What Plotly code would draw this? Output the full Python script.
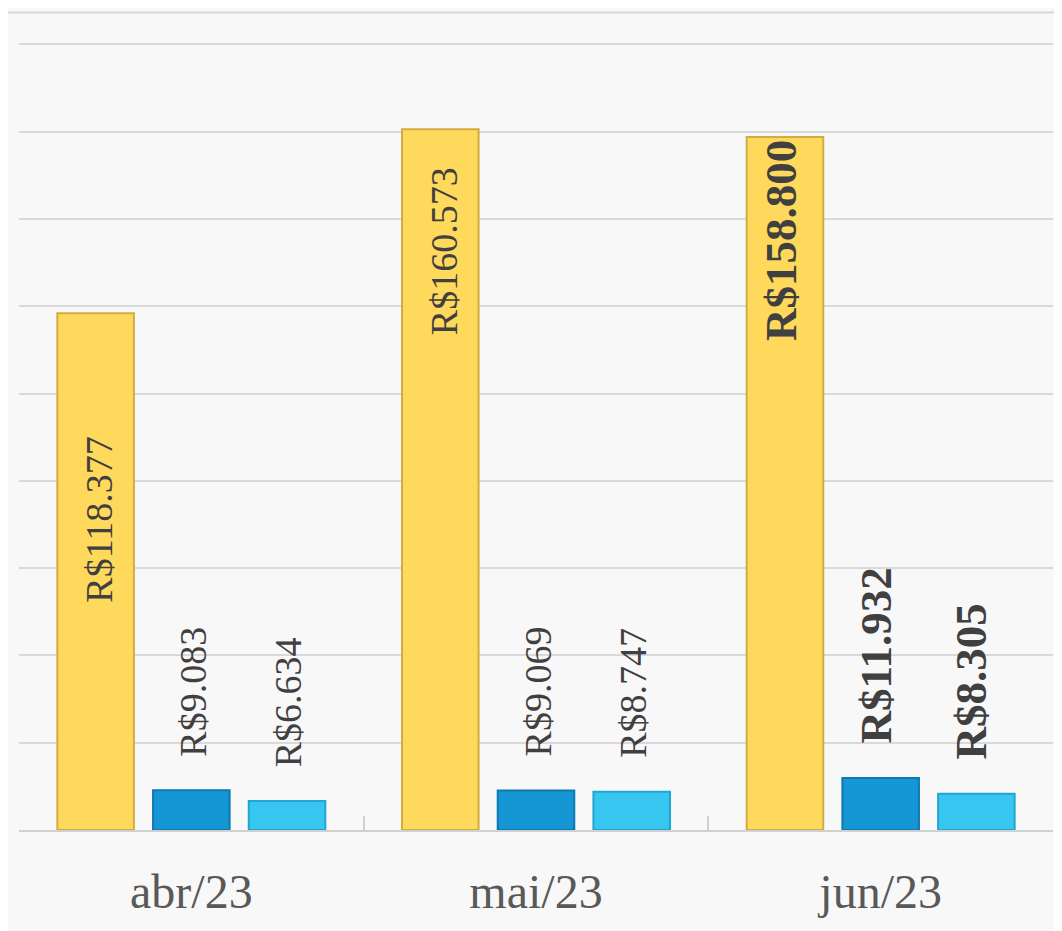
import plotly.graph_objects as go

categories = ["abr/23", "mai/23", "jun/23"]
serie_a = [118377, 160573, 158800]
serie_b = [9083, 9069, 11932]
serie_c = [6634, 8747, 8305]
labels_a = ["R$118.377", "R$160.573", "R$158.800"]
labels_b = ["R$9.083", "R$9.069", "R$11.932"]
labels_c = ["R$6.634", "R$8.747", "R$8.305"]
bold_flags = [False, False, True]

fig = go.Figure()
series = [
    (serie_a, "#FFD95C", "#D2AC42"),
    (serie_b, "#1597D6", "#0F78B0"),
    (serie_c, "#36C6F0", "#22A6D0"),
]
for vals, fill, line in series:
    fig.add_trace(go.Bar(x=categories, y=vals, marker=dict(color=fill, line=dict(color=line, width=2)),
                         hoverinfo="skip"))

serif = "Liberation Serif, DejaVu Serif, serif"
annotations = []
inside_shift = [-121, -36, -1]
for i, cat in enumerate(categories):
    bold = bold_flags[i]
    fsize = 45 if bold else 38
    dx = -5 if bold else 2
    def fmt(t):
        return f"<b>{t}</b>" if bold else t
    annotations.append(dict(x=cat, y=serie_a[i], xref="x", yref="y", text=fmt(labels_a[i]),
                            textangle=-90, showarrow=False, xshift=-95 + dx + 1, yanchor="top",
                            yshift=inside_shift[i], font=dict(family=serif, size=fsize, color="#404040")))
    annotations.append(dict(x=cat, y=serie_b[i], xref="x", yref="y", text=fmt(labels_b[i]),
                            textangle=-90, showarrow=False, xshift=dx, yanchor="bottom",
                            yshift=32, font=dict(family=serif, size=fsize, color="#404040")))
    annotations.append(dict(x=cat, y=serie_c[i], xref="x", yref="y", text=fmt(labels_c[i]),
                            textangle=-90, showarrow=False, xshift=95 + dx, yanchor="bottom",
                            yshift=32, font=dict(family=serif, size=fsize, color="#404040")))

plot_h = 786 * 181000 / 180000
top_m = 822 - plot_h
fig.update_layout(
    width=1054, height=923,
    margin=dict(l=11, r=9, t=top_m, b=101),
    paper_bgcolor="#f8f8f8", plot_bgcolor="#f8f8f8",
    barmode="group", bargap=0.167, bargroupgap=0.2,
    showlegend=False,
    annotations=annotations,
    shapes=[dict(type="line", xref="paper", yref="paper", x0=-0.02, x1=1.02,
                 y0=(822 - 4) / plot_h, y1=(822 - 4) / plot_h,
                 line=dict(color="#d6d6d6", width=2))],
    xaxis=dict(showline=True, linecolor="#d0d0d0", linewidth=2, ticks="inside", tickson="boundaries",
               ticklen=14, tickcolor="#d0d0d0", tickwidth=2,
               tickfont=dict(family=serif, size=48, color="#595959"), ticklabelstandoff=18),
    yaxis=dict(range=[0, 181000], dtick=20000, showgrid=True, gridcolor="#d9d9d9", gridwidth=2,
               showticklabels=False, zeroline=False, fixedrange=True),
)

fig.write_html("out.html")
